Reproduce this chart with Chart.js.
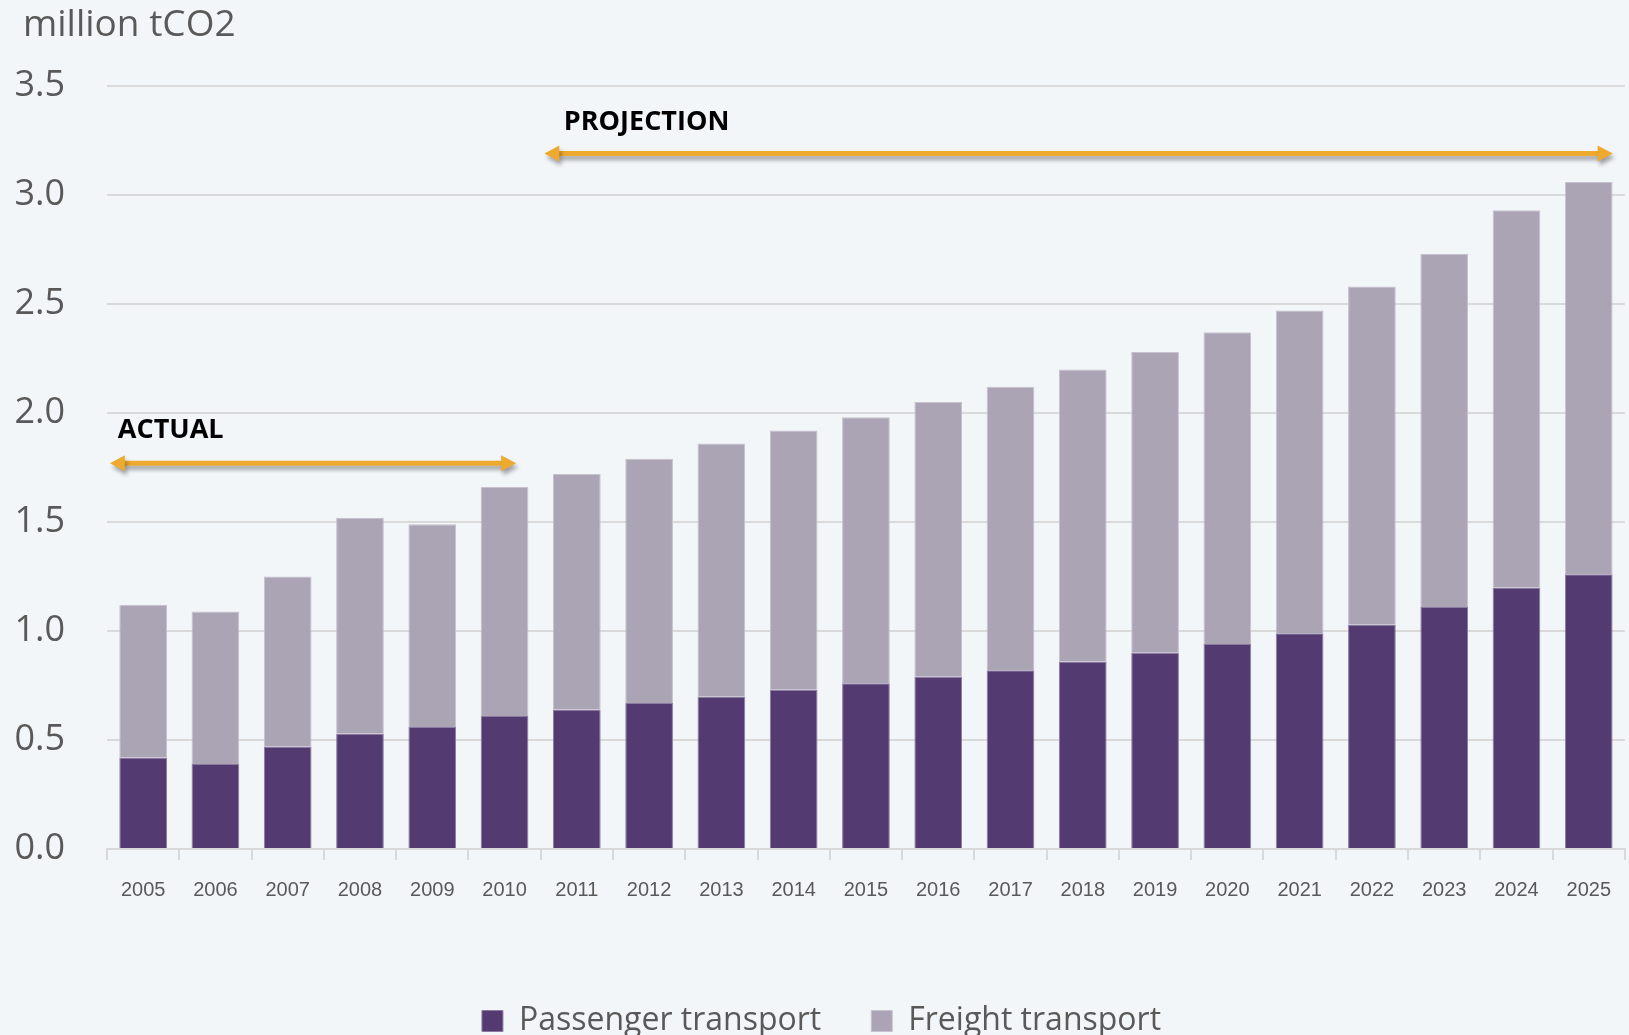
<!DOCTYPE html>
<html>
<head>
<meta charset="utf-8">
<script src="https://cdn.jsdelivr.net/npm/chart.js@4.4.0/dist/chart.umd.min.js"></script>
<style>
    html, body { margin: 0; padding: 0; background: #f3f6f9; overflow: hidden; }
    #wrap { position: relative; width: 1629px; height: 1047px; }
</style>
</head>
<body>
<div id="wrap"><canvas id="grafik"></canvas></div>
<script>
const years = ['2005', '2006', '2007', '2008', '2009', '2010', '2011', '2012', '2013', '2014', '2015',
    '2016', '2017', '2018', '2019', '2020', '2021', '2022', '2023', '2024', '2025'];
const passenger = [0.42, 0.39, 0.47, 0.53, 0.56, 0.61, 0.64, 0.67, 0.70, 0.73, 0.76,
    0.79, 0.82, 0.86, 0.90, 0.94, 0.99, 1.03, 1.11, 1.20, 1.26];
const freight = [0.70, 0.70, 0.78, 0.99, 0.93, 1.05, 1.08, 1.12, 1.16, 1.19, 1.22,
    1.26, 1.30, 1.34, 1.38, 1.43, 1.48, 1.55, 1.62, 1.73, 1.80];
const yMax = 3.5;
const yStep = 0.5;

// period arrows, in category index / value units
const periods = [
    { label: 'ACTUAL', from: -0.46, to: 5.16, level: 1.77, textAt: -0.35, textLevel: 1.92 },
    { label: 'PROJECTION', from: 5.55, to: 20.33, level: 3.19, textAt: 5.82, textLevel: 3.335 }
];

const gray = '#595959';
const arrowColor = '#eeaa2f';

const unitTitle = {
    id: 'unitTitle',
    beforeDraw(chart) {
        const ctx = chart.ctx;
        ctx.save();
        ctx.fillStyle = gray;
        ctx.font = '37px "Open Sans"';
        ctx.textBaseline = 'middle';
        ctx.fillText('million tCO2', 23, 25);
        ctx.restore();
    }
};

const periodArrows = {
    id: 'periodArrows',
    afterDatasetsDraw(chart) {
        const { ctx, scales: { x, y } } = chart;
        periods.forEach(p => {
            const x1 = x.getPixelForValue(p.from);
            const x2 = x.getPixelForValue(p.to);
            const yy = y.getPixelForValue(p.level);
            const head = 15, half = 8;

            ctx.save();
            ctx.shadowColor = 'rgba(0, 0, 0, 0.35)';
            ctx.shadowBlur = 4;
            ctx.shadowOffsetX = 2;
            ctx.shadowOffsetY = 4;
            ctx.fillStyle = arrowColor;
            ctx.strokeStyle = arrowColor;
            ctx.lineWidth = 5;
            ctx.beginPath();
            ctx.moveTo(x1 + head - 2, yy);
            ctx.lineTo(x2 - head + 2, yy);
            ctx.stroke();
            ctx.beginPath();
            ctx.moveTo(x1, yy);
            ctx.lineTo(x1 + head, yy - half);
            ctx.lineTo(x1 + head, yy + half);
            ctx.closePath();
            ctx.fill();
            ctx.beginPath();
            ctx.moveTo(x2, yy);
            ctx.lineTo(x2 - head, yy - half);
            ctx.lineTo(x2 - head, yy + half);
            ctx.closePath();
            ctx.fill();
            ctx.restore();

            ctx.save();
            ctx.fillStyle = '#000000';
            ctx.font = 'bold 27px "Open Sans"';
            ctx.textBaseline = 'middle';
            ctx.fillText(p.label, x.getPixelForValue(p.textAt), y.getPixelForValue(p.textLevel));
            ctx.restore();
        });
    }
};

const grafik = document.getElementById('grafik').getContext('2d');
new Chart(grafik, {
    type: 'bar',
    data: {
        labels: years,
        datasets: [{
            label: 'Passenger transport',
            data: passenger,
            backgroundColor: '#533a71',
            borderColor: '#8b7ba0',
            borderWidth: 1,
            barPercentage: 0.66,
            categoryPercentage: 1
        }, {
            label: 'Freight transport',
            data: freight,
            backgroundColor: '#aba4b5',
            borderColor: '#c6c1cd',
            borderWidth: 1,
            barPercentage: 0.66,
            categoryPercentage: 1
        }]
    },
    options: {
        responsive: true,
        maintainAspectRatio: false,
        animation: false,
        layout: { padding: { top: 86, left: 14, right: 0, bottom: 0 } },
        plugins: {
            tooltip: { enabled: false },
            title: { display: false },
            legend: {
                position: 'bottom',
                labels: {
                    boxWidth: 21,
                    boxHeight: 21,
                    padding: 50,
                    color: gray,
                    font: { family: 'Open Sans', size: 32 }
                }
            }
        },
        scales: {
            x: {
                stacked: true,
                offset: true,
                grid: {
                    display: true,
                    drawOnChartArea: false,
                    drawTicks: true,
                    tickLength: 11,
                    color: '#d9d9d9',
                    lineWidth: 2,
                    offset: true
                },
                border: { color: '#d9d9d9', width: 2 },
                ticks: {
                    color: gray,
                    font: { family: 'Liberation Sans', size: 20 },
                    padding: 18,
                    maxRotation: 0,
                    autoSkip: false
                },
                afterFit(scale) {
                    scale.height = 106;
                }
            },
            y: {
                stacked: true,
                min: 0,
                max: yMax,
                grid: { color: '#d9d9d9', lineWidth: 2, drawTicks: false },
                border: { display: false },
                ticks: {
                    stepSize: yStep,
                    color: gray,
                    font: { family: 'Open Sans', size: 36 },
                    padding: 42,
                    callback: value => value.toFixed(1)
                },
                afterFit(scale) {
                    scale.width = 93;
                }
            }
        }
    },
    plugins: [unitTitle, periodArrows]
});
</script>
</body>
</html>
